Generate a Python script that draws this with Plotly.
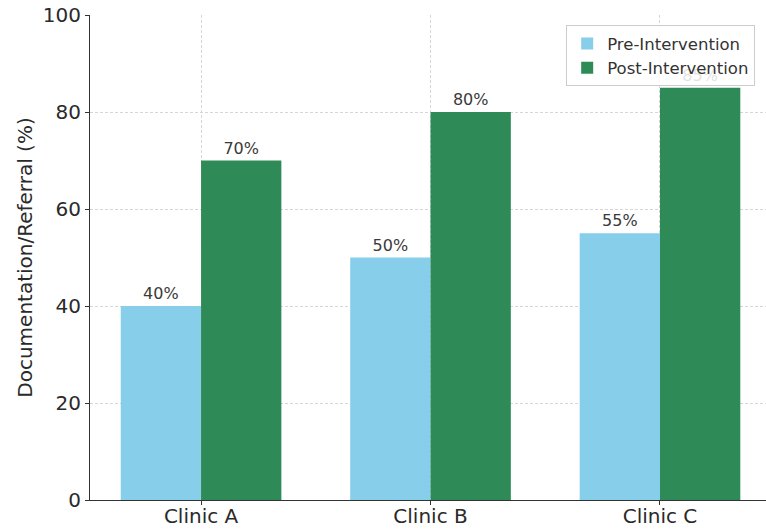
import plotly.graph_objects as go

clinics = ["Clinic A", "Clinic B", "Clinic C"]
pre_values = [40, 50, 55]
post_values = [70, 80, 85]
y_ticks = [0, 20, 40, 60, 80, 100]

FONT = "DejaVu Sans"

fig = go.Figure()
fig.add_trace(go.Bar(
    x=clinics, y=pre_values, name="Pre-Intervention",
    marker=dict(color="#87CEEB", line=dict(width=0)),
    text=[f"{v}%" for v in pre_values], textposition="outside",
    textfont=dict(family=FONT, size=16, color="#3a3a3a"),
    cliponaxis=False, offsetgroup=0,
))
fig.add_trace(go.Bar(
    x=clinics, y=post_values, name="Post-Intervention",
    marker=dict(color="#2E8B57", line=dict(width=0)),
    text=[f"{v}%" for v in post_values], textposition="outside",
    textfont=dict(family=FONT, size=16, color="#3a3a3a"),
    cliponaxis=False, offsetgroup=1,
))

fig.update_layout(
    width=766, height=529,
    margin=dict(l=90, r=0, t=15, b=29, autoexpand=False),
    plot_bgcolor="white", paper_bgcolor="white",
    barmode="group", bargap=0.3, bargroupgap=0,
    font=dict(family=FONT, size=20, color="#2a2a2a"),
    showlegend=True,
    legend=dict(
        x=0.984, y=0.979, xanchor="right", yanchor="top",
        bgcolor="rgba(255,255,255,0.85)", bordercolor="#cccccc", borderwidth=1,
        font=dict(family=FONT, size=16.5, color="#333333"),
        itemwidth=30, tracegroupgap=0,
    ),
)
fig.update_xaxes(
    range=[-0.484, 2.462], automargin=False,
    showline=True, linecolor="#333333", linewidth=1.2,
    ticks="outside", ticklen=4, tickcolor="#333333",
    ticklabelstandoff=-6,
    showgrid=True, gridcolor="#d6d6d6", griddash="3px,2px", gridwidth=1,
    tickfont=dict(family=FONT, size=20, color="#2a2a2a"),
)
fig.update_yaxes(
    range=[0, 100], tickvals=y_ticks, automargin=False,
    showline=True, linecolor="#333333", linewidth=1.2,
    ticks="outside", ticklen=4, tickcolor="#333333",
    showgrid=True, gridcolor="#d6d6d6", griddash="3px,2px", gridwidth=1,
    zeroline=False,
    tickfont=dict(family=FONT, size=20, color="#2a2a2a"),
    title=dict(text="Documentation/Referral (%)", standoff=4,
               font=dict(family=FONT, size=20, color="#2a2a2a")),
)

fig.write_html("out.html")
